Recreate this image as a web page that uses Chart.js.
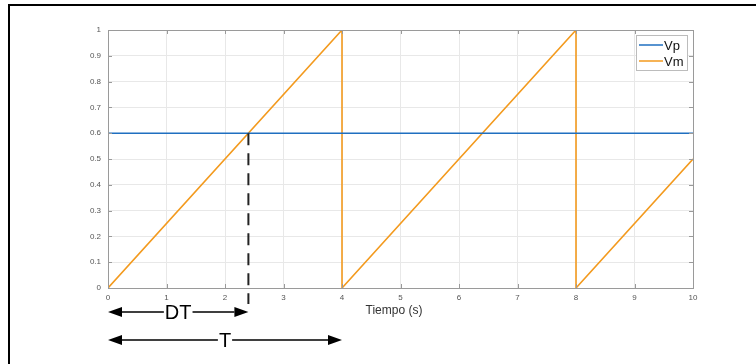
<!DOCTYPE html>
<html>
<head>
<meta charset="utf-8">
<script src="https://cdn.jsdelivr.net/npm/chart.js@4.4.1/dist/chart.umd.min.js"></script>
<style>
    body { margin: 0; background: #fff; }
    #wrap { width: 756px; height: 364px; }
</style>
</head>
<body>
<div id="wrap"><canvas id="chart" width="756" height="364"></canvas></div>
<script>
    // data
    const vpX = [0, 10];
    const vpY = [0.6, 0.6];
    const vmX = [0, 4, 4, 8, 8, 10];
    const vmY = [0, 1, 0, 1, 0, 0.5];
    const xTicks = [0, 1, 2, 3, 4, 5, 6, 7, 8, 9, 10];
    const yTicks = [0, 0.1, 0.2, 0.3, 0.4, 0.5, 0.6, 0.7, 0.8, 0.9, 1];
    const dutyX = 2.4;   // DT
    const periodX = 4;   // T
    const xTitle = 'Tiempo (s)';

    function toPoints(xs, ys) {
        return xs.map((x, i) => ({ x: x, y: ys[i] }));
    }

    function arrow(ctx, x1, x2, y, label, font) {
        ctx.save();
        ctx.font = font;
        const w = ctx.measureText(label).width;
        const mid = (x1 + x2) / 2;
        const head = 14, half = 5;
        ctx.strokeStyle = '#000';
        ctx.fillStyle = '#000';
        ctx.lineWidth = 1.5;
        ctx.beginPath();
        ctx.moveTo(x1 + head, y); ctx.lineTo(mid - w / 2 - 1, y);
        ctx.moveTo(mid + w / 2 + 1, y); ctx.lineTo(x2 - head, y);
        ctx.stroke();
        ctx.beginPath();
        ctx.moveTo(x1, y); ctx.lineTo(x1 + head, y - half); ctx.lineTo(x1 + head, y + half); ctx.closePath();
        ctx.moveTo(x2, y); ctx.lineTo(x2 - head, y - half); ctx.lineTo(x2 - head, y + half); ctx.closePath();
        ctx.fill();
        ctx.textAlign = 'center';
        ctx.textBaseline = 'middle';
        ctx.fillText(label, mid, y + 1);
        ctx.restore();
    }

    const frame = {
        id: 'frame',
        beforeDraw(chart) {
            const ctx = chart.ctx;
            ctx.save();
            ctx.fillStyle = '#fff';
            ctx.fillRect(0, 0, chart.width, chart.height);
            ctx.strokeStyle = '#000';
            ctx.lineWidth = 2;
            ctx.beginPath();
            ctx.moveTo(9, chart.height);
            ctx.lineTo(9, 5);
            ctx.lineTo(chart.width, 5);
            ctx.stroke();
            ctx.restore();
        },
        afterDraw(chart) {
            const ctx = chart.ctx;
            const a = chart.chartArea;
            const xs = chart.scales.x, ys = chart.scales.y;
            ctx.save();
            // axes box
            ctx.strokeStyle = '#9a9a9a';
            ctx.lineWidth = 1;
            ctx.strokeRect(a.left + 0.5, a.top + 0.5, a.right - a.left, a.bottom - a.top);
            // small inward ticks on top axis
            xTicks.forEach(v => {
                const px = Math.round(xs.getPixelForValue(v)) + 0.5;
                ctx.beginPath();
                ctx.moveTo(px, a.top); ctx.lineTo(px, a.top + 4);
                ctx.moveTo(px, a.bottom); ctx.lineTo(px, a.bottom - 4);
                ctx.stroke();
            });
            yTicks.forEach(v => {
                const py = Math.round(ys.getPixelForValue(v)) + 0.5;
                ctx.beginPath();
                ctx.moveTo(a.left, py); ctx.lineTo(a.left + 4, py);
                ctx.moveTo(a.right, py); ctx.lineTo(a.right - 4, py);
                ctx.stroke();
            });
            // x title
            ctx.fillStyle = '#333';
            ctx.font = '12px "Liberation Sans", Arial, sans-serif';
            ctx.textAlign = 'center';
            ctx.textBaseline = 'middle';
            ctx.fillText(xTitle, 394, 311);
            // legend
            const lx = 636, ly = 35, lw = 51, lh = 35;
            ctx.fillStyle = '#fff';
            ctx.fillRect(lx, ly, lw, lh);
            ctx.strokeStyle = '#bcbcbc';
            ctx.strokeRect(lx + 0.5, ly + 0.5, lw, lh);
            chart.data.datasets.forEach((ds, i) => {
                const y = ly + 10 + i * 16;
                ctx.strokeStyle = ds.borderColor;
                ctx.lineWidth = 1.5;
                ctx.beginPath();
                ctx.moveTo(lx + 3, y); ctx.lineTo(lx + 27, y);
                ctx.stroke();
                ctx.fillStyle = '#111';
                ctx.font = '13px "Liberation Sans", Arial, sans-serif';
                ctx.textAlign = 'left';
                ctx.fillText(ds.label, lx + 28, y + 1);
            });
            // dashed duty line
            const dx = xs.getPixelForValue(dutyX);
            ctx.strokeStyle = '#222';
            ctx.lineWidth = 2;
            ctx.setLineDash([12, 8]);
            ctx.beginPath();
            ctx.moveTo(dx, ys.getPixelForValue(vpY[0]));
            ctx.lineTo(dx, a.bottom + 16);
            ctx.stroke();
            ctx.setLineDash([]);
            // arrows
            const x0 = xs.getPixelForValue(0);
            arrow(ctx, x0, dx, 312, 'DT', '20px "Liberation Sans", Arial, sans-serif');
            arrow(ctx, x0, xs.getPixelForValue(periodX), 340, 'T', '20px "Liberation Sans", Arial, sans-serif');
            ctx.restore();
        }
    };

    new Chart(document.getElementById('chart'), {
        type: 'line',
        data: {
            datasets: [
                { label: 'Vp', data: toPoints(vpX, vpY), borderColor: '#1f6fc0', borderWidth: 1.6, pointRadius: 0, tension: 0 },
                { label: 'Vm', data: toPoints(vmX, vmY), borderColor: '#f39a1e', borderWidth: 1.6, pointRadius: 0, tension: 0 }
            ]
        },
        options: {
            responsive: false,
            animation: false,
            layout: { padding: { left: 0, right: 63, top: 30, bottom: 0 } },
            plugins: { legend: { display: false }, tooltip: { enabled: false } },
            scales: {
                x: {
                    type: 'linear', min: 0, max: 10,
                    afterBuildTicks: s => { s.ticks = xTicks.map(v => ({ value: v })); },
                    afterFit: s => { s.height = 76; },
                    grid: { color: '#e8e8e8', drawTicks: false },
                    border: { display: false },
                    ticks: { padding: 5, maxRotation: 0, color: '#555', font: { size: 8, family: 'Liberation Sans' },
                             callback: v => String(v) }
                },
                y: {
                    min: 0, max: 1,
                    afterBuildTicks: s => { s.ticks = yTicks.map(v => ({ value: v })); },
                    afterFit: s => { s.width = 108; },
                    grid: { color: '#e8e8e8', drawTicks: false },
                    border: { display: false },
                    ticks: { padding: 7, color: '#555', font: { size: 8, family: 'Liberation Sans' },
                             callback: v => String(Math.round(v * 10) / 10) }
                }
            }
        },
        plugins: [frame]
    });
</script>
</body>
</html>
